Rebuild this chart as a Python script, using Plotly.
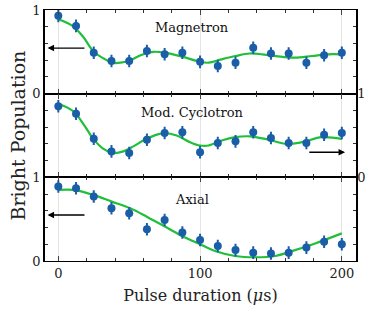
import plotly.graph_objects as go
from plotly.subplots import make_subplots

# Data
pulse = [0, 12.5, 25, 37.5, 50, 62.5, 75, 87.5, 100, 112.5, 125, 137.5, 150, 162.5, 175, 187.5, 200]
magnetron = [0.93, 0.81, 0.49, 0.39, 0.39, 0.51, 0.47, 0.49, 0.38, 0.33, 0.37, 0.55, 0.48, 0.48, 0.37, 0.46, 0.49]
cyclotron = [0.85, 0.76, 0.46, 0.31, 0.29, 0.45, 0.53, 0.54, 0.30, 0.41, 0.43, 0.54, 0.47, 0.41, 0.41, 0.51, 0.53]
axial = [0.89, 0.87, 0.77, 0.63, 0.57, 0.38, 0.49, 0.34, 0.25, 0.18, 0.13, 0.10, 0.09, 0.10, 0.16, 0.23, 0.20]
err = [0.075] * len(pulse)

mag_fit_x = [0, 10, 17.5, 25, 32, 38, 44, 51, 58, 67, 75, 88, 98, 106, 115, 125, 135, 144, 158, 167, 179, 190, 200]
mag_fit_y = [0.89, 0.81, 0.68, 0.50, 0.42, 0.37, 0.37, 0.40, 0.46, 0.50, 0.49, 0.44, 0.39, 0.37, 0.41, 0.45, 0.48, 0.47, 0.44, 0.43, 0.45, 0.47, 0.47]
cyc_fit_x = [0, 10.6, 17.6, 24.7, 31.8, 38.8, 45.9, 52.9, 60, 69.4, 75.3, 83.5, 93, 100, 106, 115.3, 124.7, 135.3, 148.2, 161.2, 171.8, 185.9, 200]
cyc_fit_y = [0.88, 0.79, 0.64, 0.46, 0.34, 0.29, 0.31, 0.37, 0.44, 0.51, 0.53, 0.50, 0.42, 0.38, 0.38, 0.44, 0.48, 0.49, 0.45, 0.40, 0.42, 0.48, 0.46]
ax_fit_x = [0, 10.6, 24.7, 37.7, 50.7, 62.4, 76.5, 88.3, 100, 110.6, 124.7, 138.8, 153, 167, 181.2, 200]
ax_fit_y = [0.85, 0.85, 0.79, 0.71, 0.63, 0.53, 0.40, 0.29, 0.20, 0.12, 0.06, 0.045, 0.06, 0.13, 0.21, 0.33]

labels = ["Magnetron", "Mod. Cyclotron", "Axial"]

BLUE = "#1a5ea8"
GREEN = "#1fbf3a"
FONT = "DejaVu Serif"

fig = make_subplots(rows=3, cols=1, shared_xaxes=True, vertical_spacing=0)

series = [(magnetron, mag_fit_x, mag_fit_y), (cyclotron, cyc_fit_x, cyc_fit_y), (axial, ax_fit_x, ax_fit_y)]
for i, (vals, fx, fy) in enumerate(series, start=1):
    fig.add_trace(go.Scatter(x=fx, y=fy, mode="lines", line=dict(color=GREEN, width=2.2, shape="spline", smoothing=1.0),
                             showlegend=False, hoverinfo="skip"), row=i, col=1)
    fig.add_trace(go.Scatter(x=pulse, y=vals, mode="markers",
                             marker=dict(color=BLUE, size=8),
                             error_y=dict(type="data", array=err, color=BLUE, thickness=2, width=0),
                             showlegend=False), row=i, col=1)

xcommon = dict(range=[-9.4, 210], tickvals=[0, 100, 200], ticks="inside", ticklen=5, tickwidth=1,
               showgrid=True, gridcolor="#e4e4e4", gridwidth=1, zeroline=False, automargin=False,
               showline=True, linecolor="black", linewidth=1, mirror="ticks", ticklabeloverflow="allow",
               minor=dict(dtick=20, tick0=0, ticks="inside", ticklen=3, tickcolor="#333", showgrid=False),
               tickfont=dict(family=FONT, size=13, color="#222"))
for i in range(1, 4):
    fig.update_xaxes(**xcommon, row=i, col=1)
fig.update_xaxes(showticklabels=False, row=1, col=1)
fig.update_xaxes(showticklabels=False, row=2, col=1)
fig.update_xaxes(title=dict(text="Pulse duration (<i>μ</i>s)", font=dict(family=FONT, size=16, color="#222"), standoff=10),
                 row=3, col=1)

ycommon = dict(range=[0, 1], tickvals=[0, 1], ticks="inside", ticklen=5, showgrid=False, zeroline=False,
               automargin=False, ticklabeloverflow="allow",
               showline=True, linecolor="black", linewidth=1.5, mirror="ticks",
               minor=dict(dtick=0.2, tick0=0, ticks="inside", ticklen=3, tickcolor="#333", showgrid=False),
               tickfont=dict(family=FONT, size=13, color="#222"))
for i in range(1, 4):
    fig.update_yaxes(**ycommon, row=i, col=1)
fig.update_yaxes(side="right", ticklabelstandoff=-3, row=2, col=1)

ann = []
label_y = [0.795, 0.77, 0.74]
for i, (lab, ly) in enumerate(zip(labels, label_y), start=1):
    xr = "x" if i == 1 else f"x{i}"
    yr = "y" if i == 1 else f"y{i}"
    ann.append(dict(x=94.4, y=ly, xref=xr, yref=yr, text=lab, showarrow=False,
                    font=dict(family=FONT, size=13, color="#111")))

arrows = [(1, 19.5, -7.6, 0.545), (2, 176, 202.3, 0.30), (3, 19.5, -7.6, 0.55)]
for i, tail, head, yv in arrows:
    xr = "x" if i == 1 else f"x{i}"
    yr = "y" if i == 1 else f"y{i}"
    ann.append(dict(x=head, y=yv, ax=tail, ay=yv, xref=xr, yref=yr, axref=xr, ayref=yr,
                    text="", showarrow=True, arrowhead=2, arrowsize=1, arrowwidth=1.3, arrowcolor="black"))

ann.append(dict(x=0, y=0.5, xref="paper", yref="paper", xshift=-28, text="Bright Population", textangle=-90,
                showarrow=False, font=dict(family=FONT, size=19, color="#222"), xanchor="center", yanchor="middle"))

fig.update_layout(width=373, height=317, margin=dict(l=45, r=17, t=10, b=56, autoexpand=False),
                  plot_bgcolor="white", paper_bgcolor="white", annotations=ann)

fig.write_html("out.html", config={"displayModeBar": False},
               post_script="document.body.style.margin='0px';")
